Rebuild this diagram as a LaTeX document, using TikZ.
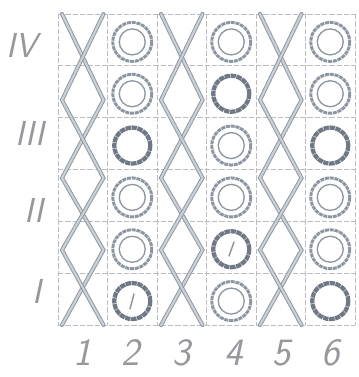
\documentclass[tikz,border=0pt]{standalone}
\usepackage{tikz}
\usetikzlibrary{positioning, calc}
\definecolor{pencil}{RGB}{140,150,162}
\definecolor{pencildark}{RGB}{112,120,134}
\definecolor{gridgray}{RGB}{185,188,194}
\definecolor{labelgray}{RGB}{150,152,158}
\tikzset{
    gridline/.style={draw=gridgray, line width=0.5pt, dash pattern=on 4pt off 1.5pt},
    xstroke/.style={draw=pencil, line width=0.7pt, double=pencil!45, double distance=1.6pt, line cap=round},
    ringouter/.style={draw=pencil, line width=2.2pt, dash pattern=on 3pt off 0.6pt},
    ringinner/.style={draw=pencil, line width=1pt},
    ringthick/.style={draw=pencildark, line width=3.2pt, dash pattern=on 4pt off 0.5pt},
    scribble/.style={draw=pencil, line width=1.1pt, line cap=round},
    rowlab/.style={anchor=east, text=labelgray, font=\sffamily\slshape\fontsize{26}{26}\selectfont},
    collab/.style={text=labelgray, font=\sffamily\slshape\fontsize{29}{29}\selectfont}
}

\begin{document}
\begin{tikzpicture}[x=0.75pt, y=-0.75pt]
        \useasboundingbox (0,0) rectangle (358,377);

        % Grid
        \foreach \i in {0,...,6} {
            \draw[gridline] ({58+\i*49.5},14) -- ({58+\i*49.5},325);
            \draw[gridline] (58,{14+\i*51.83}) -- (355,{14+\i*51.83});
        }

        % Crosses
        \foreach \col in {1,3,5} {
            \pgfmathsetmacro{\xl}{58+(\col-1)*49.5+4}
            \pgfmathsetmacro{\xr}{\xl+41.5}
            \draw[xstroke] (\xl,14) -- (\xr,100) -- (\xl,178) -- (\xr,250) -- (\xl,325);
            \draw[xstroke] (\xr,14) -- (\xl,100) -- (\xr,178) -- (\xl,250) -- (\xr,325);
        }

        % Rings
        \foreach \col/\row in {2/1,2/2,2/4,2/5,4/1,4/3,4/4,4/6,6/1,6/2,6/4,6/5} {
            \draw[ringouter] ({58+(\col-0.5)*49.5},{16+(\row-0.5)*51.83}) circle[radius=19.5];
            \draw[ringinner] ({58+(\col-0.5)*49.5},{16+(\row-0.5)*51.83}) circle[radius=13];
        }
        \foreach \col/\row in {2/3,2/6,4/2,4/5,6/3,6/6}
            \draw[ringthick] ({58+(\col-0.5)*49.5},{16+(\row-0.5)*51.83}) circle[radius=18];
        \draw[scribble] (130,309) -- (134,294);
        \draw[scribble] (229,256) -- (234,242);

        % Labels
        \node[rowlab] (rIV) at (42,45) {IV};
        \node[rowlab] (rIII) at (49,133) {III};
        \node[rowlab] (rII) at (48,210) {II};
        \node[rowlab] (rI) at (46,291) {I};
        \foreach \n/\x in {1/83,2/131,3/182,4/234,5/282,6/331}
            \node[collab] (c\n) at (\x,353) {\n};
    \end{tikzpicture}
\end{document}
